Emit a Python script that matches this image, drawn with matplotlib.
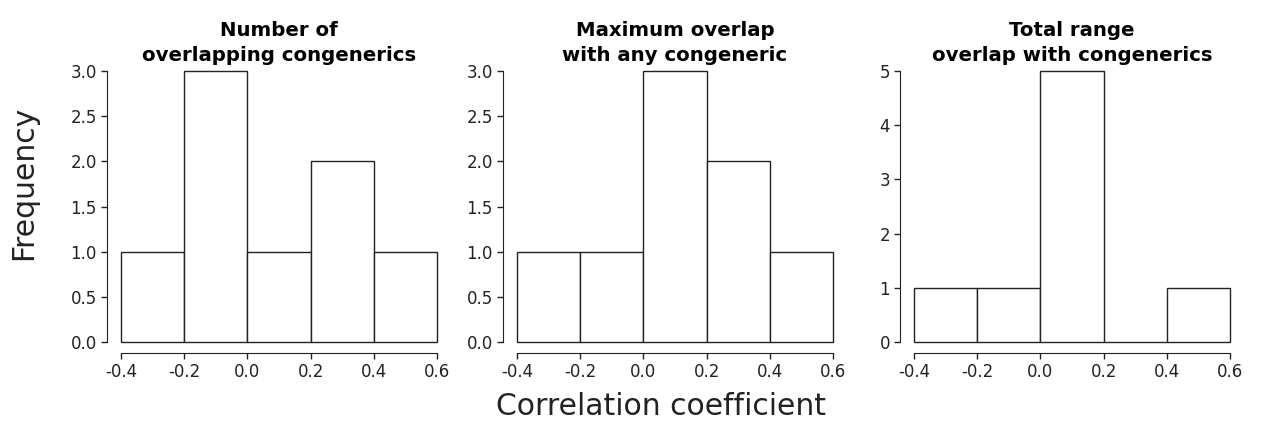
import matplotlib
matplotlib.use("Agg")
from matplotlib import pyplot as plt

bin_edges = [-0.4, -0.2, 0.0, 0.2, 0.4, 0.6]
titles = [
    "Number of\noverlapping congenerics",
    "Maximum overlap\nwith any congeneric",
    "Total range\noverlap with congenerics",
]
counts_number = [1, 3, 1, 2, 1]
counts_max = [1, 1, 3, 2, 1]
counts_total = [1, 1, 5, 0, 1]
y_ticks = [
    [0.0, 0.5, 1.0, 1.5, 2.0, 2.5, 3.0],
    [0.0, 0.5, 1.0, 1.5, 2.0, 2.5, 3.0],
    [0, 1, 2, 3, 4, 5],
]
x_ticks = [-0.4, -0.2, 0.0, 0.2, 0.4, 0.6]
x_labels = ['-0.4', '-0.2', '0.0', '0.2', '0.4', '0.6']

plt.rcParams['font.family'] = ['DejaVu Sans']
plt.rcParams['axes.unicode_minus'] = False

fig = plt.figure(figsize=(12.61, 4.26), dpi=100)
W, H = 1261, 426
lefts = [121, 517, 914]
all_counts = [counts_number, counts_max, counts_total]
ink = '#222222'

for i in range(3):
    ax = fig.add_axes([lefts[i] / W, 84 / H, 316 / W, 271 / H])
    counts = all_counts[i]
    widths = [bin_edges[k + 1] - bin_edges[k] for k in range(len(counts))]
    bars = ax.bar(bin_edges[:-1], counts, width=widths, align='edge',
                  color='white', edgecolor=ink, linewidth=1.0)
    for b in bars:
        b.set_clip_on(False)
    ax.set_xlim(-0.4, 0.6)
    ax.set_ylim(0, max(y_ticks[i]))
    ax.set_xticks(x_ticks)
    ax.set_xticklabels(x_labels)
    ax.set_yticks(y_ticks[i])
    if i < 2:
        ax.set_yticklabels([f"{v:.1f}" for v in y_ticks[i]])
    else:
        ax.set_yticklabels([str(v) for v in y_ticks[i]])
    for s in ['top', 'right']:
        ax.spines[s].set_visible(False)
    ax.spines['left'].set_position(('outward', 10))
    ax.spines['bottom'].set_position(('outward', 8))
    ax.spines['left'].set_color(ink)
    ax.spines['bottom'].set_color(ink)
    ax.tick_params(axis='both', length=4.3, width=1.0, color=ink,
                   labelsize=12, labelcolor=ink, pad=3)
    ax.set_title(titles[i], fontsize=14.2, fontweight='bold', pad=7,
                 color='black', linespacing=1.4)

fig.text(24 / W, 1 - 183 / H, 'Frequency', rotation=90, fontsize=21.5,
         ha='center', va='center', color=ink)
fig.text(661 / W, 1 - 415 / H, 'Correlation coefficient', fontsize=21.5,
         ha='center', va='baseline', color=ink)

plt.savefig('out.png', dpi=100)
